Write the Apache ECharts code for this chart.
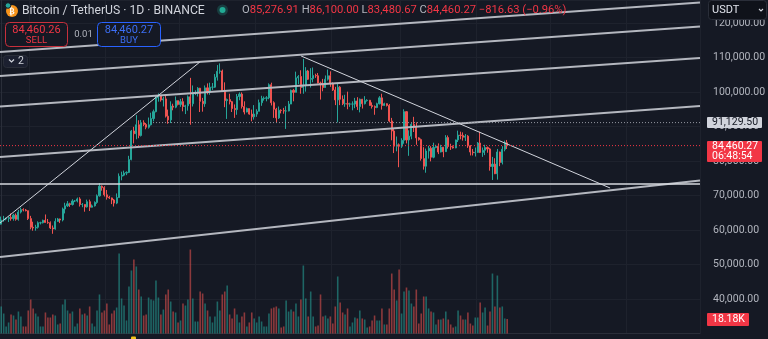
<!DOCTYPE html>
<html><head><meta charset="utf-8">
<script src="https://cdn.jsdelivr.net/npm/echarts/dist/echarts.min.js"></script>
<style>html,body{margin:0;padding:0;background:#151924;}#c{width:768px;height:339px;}</style>
</head><body><div id="c"></div><script>
// ---- data (prices in thousands USDT): [open, close, low, high], daily from 2024-09-19
const startDate = '2024-09-19';
const ohlc = [
[61.7,62.9,61.6,63.9],[62.9,63.2,62.4,64.1],[63.2,63.3,62.8,63.6],[63.3,63.6,62.3,63.9],[63.6,63.3,62.7,64.8],
[63.3,64.3,62.7,64.7],[64.3,63.1,62.7,64.8],[63.1,65.2,62.7,65.8],[65.2,65.9,64.8,66.5],[65.9,65.8,65.4,66.3],
[65.8,65.6,65.4,66.1],[65.6,63.3,62.9,65.6],
[63.3,60.8,60.2,64.1],[60.8,60.6,59.8,62.4],[60.6,60.8,59.8,61.5],[60.8,62.1,60.4,62.5],[62.1,62.1,61.6,62.4],
[62.1,62.8,61.9,63.0],[62.8,62.2,62.1,64.5],[62.2,62.1,61.8,63.2],[62.1,60.6,60.3,62.5],[60.6,60.3,58.9,61.3],
[60.3,62.5,60.1,63.4],[62.5,63.2,62.4,63.5],[63.2,62.9,62.0,63.3],[62.9,66.1,62.5,66.5],[66.1,67.0,64.8,67.9],
[67.0,67.6,66.7,68.4],[67.6,67.4,66.7,67.9],[67.4,68.4,67.1,68.9],[68.4,68.4,68.1,68.7],[68.4,69.0,68.0,69.4],
[69.0,67.4,66.8,69.5],[67.4,67.4,66.6,67.8],[67.4,66.7,65.3,67.4],[66.7,68.2,66.5,68.8],[68.2,66.6,65.5,68.8],
[66.6,67.0,66.5,67.4],[67.0,68.0,66.8,68.3],[68.0,69.9,67.6,70.3],[69.9,72.7,69.7,73.6],[72.7,72.3,71.4,72.9],
[72.3,70.2,69.7,72.7],
[70.2,69.5,68.8,71.6],[69.5,69.3,69.0,69.9],[69.3,68.7,67.5,69.4],[68.7,67.8,66.8,69.0],[67.8,69.4,67.5,70.6],
[69.4,75.6,69.3,76.4],[75.6,75.9,74.4,76.9],[75.9,76.5,75.6,77.2],[76.5,76.7,75.9,77.0],[76.7,80.4,76.5,81.5],
[80.4,88.7,80.2,89.0],[88.7,87.9,85.1,89.9],[87.9,90.5,86.3,93.3],[90.5,87.4,86.6,91.8],[87.4,91.1,87.1,91.9],
[91.1,90.6,90.1,91.8],[90.6,89.8,89.2,91.0],[89.8,90.5,89.4,92.6],[90.5,92.3,90.3,94.0],[92.3,94.3,91.5,94.9],
[94.3,98.3,94.1,99.0],[98.3,98.9,97.2,99.6],[98.9,97.7,97.2,98.8],[97.7,98.0,95.8,98.6],[98.0,93.0,92.6,98.9],
[93.0,91.9,90.8,94.9],[91.9,95.9,91.0,97.3],[95.9,95.6,94.7,96.6],[95.6,97.5,95.3,98.7],[97.5,96.4,96.1,97.5],
[96.4,97.2,95.7,98.0],[97.2,95.8,94.4,98.2],[95.8,96.0,93.6,96.3],[96.0,98.6,94.6,99.0],[98.6,96.6,90.5,104.1],
[96.6,99.9,95.8,101.9],[99.9,99.9,99.1,100.5],[99.9,101.1,98.7,101.4],[101.1,97.3,94.2,101.2],[97.3,96.6,94.3,98.3],
[96.6,101.2,95.7,101.9],[101.2,100.0,99.3,102.5],[100.0,101.4,99.2,102.7],[101.4,101.4,100.6,102.6],[101.4,104.3,101.2,105.2],
[104.3,106.0,103.3,107.8],[106.0,106.1,105.3,108.3],[106.1,100.2,100.0,106.5],[100.2,97.5,95.6,102.8],[97.5,97.8,92.2,98.1],
[97.8,97.2,96.4,99.5],[97.2,95.2,94.2,97.4],[95.2,94.9,92.5,96.4],[94.9,98.7,93.4,99.4],[98.7,99.4,97.6,99.9],
[99.4,95.8,95.2,99.9],[95.8,94.2,93.5,97.3],[94.2,95.2,94.1,95.5],[95.2,93.6,93.4,95.2],[93.6,92.8,91.5,94.9],
[92.8,93.6,92.0,96.2],
[93.6,94.4,92.8,95.0],[94.4,96.9,94.4,97.8],[96.9,98.1,96.0,98.9],[98.1,98.2,97.5,98.7],[98.2,98.3,97.3,98.8],
[98.3,102.1,97.9,102.5],[102.1,96.9,96.1,102.7],[96.9,95.0,92.5,97.3],[95.0,92.5,91.2,95.4],[92.5,94.7,92.2,95.8],
[94.7,94.6,93.8,95.0],[94.6,94.5,93.7,95.4],[94.5,94.5,89.3,95.9],[94.5,96.5,94.4,97.4],[96.5,100.5,96.5,100.7],
[100.5,99.9,97.3,100.9],[99.9,104.1,99.9,105.9],[104.1,104.5,102.3,104.9],[104.5,101.3,99.5,106.3],[101.3,102.0,99.5,109.6],
[102.0,106.1,100.1,107.2],[106.1,103.7,103.5,106.4],[103.7,103.9,101.3,106.9],[103.9,104.8,102.8,107.1],[104.8,104.7,104.1,105.3],
[104.7,102.6,102.5,105.5],[102.6,102.1,97.8,103.0],[102.1,101.3,100.2,103.8],[101.3,103.7,101.2,104.8],[103.7,104.7,103.3,106.5],
[104.7,102.4,101.5,106.0],
[102.4,100.6,100.3,102.8],[100.6,97.7,96.2,101.5],[97.7,101.4,91.2,102.5],[101.4,97.9,96.2,101.7],[97.9,96.6,96.2,99.0],
[96.6,96.6,95.7,99.2],[96.6,96.5,95.0,100.1],[96.5,96.5,95.7,96.9],[96.5,96.5,94.7,97.3],[96.5,97.4,95.3,98.3],
[97.4,95.8,94.8,98.5],[95.8,97.9,94.1,98.1],[97.9,96.6,95.2,98.0],[96.6,97.5,96.4,98.8],[97.5,97.6,97.2,97.9],
[97.6,96.1,96.0,97.7],[96.1,95.8,95.2,97.0],[95.8,95.5,93.4,96.1],[95.5,96.6,95.3,96.9],[96.6,98.3,96.4,98.8],
[98.3,96.1,94.9,99.5],[96.1,96.6,96.0,96.9],[96.6,96.1,95.8,96.7],[96.1,91.6,91.2,96.5],[91.6,88.7,86.0,92.5],
[88.7,84.3,82.3,89.3],[84.3,84.7,82.8,87.1],[84.7,84.3,78.2,85.1],
[84.3,86.0,83.8,86.6],[86.0,94.3,85.0,95.0],[94.3,86.1,85.1,94.4],[86.1,87.2,81.5,88.9],[87.2,90.6,86.3,91.0],
[90.6,89.9,88.4,92.8],[89.9,86.7,84.7,91.2],[86.7,86.2,85.9,86.9],[86.2,80.7,80.1,86.5],[80.7,78.5,77.5,84.0],
[78.5,82.9,76.6,83.6],[82.9,83.7,80.7,84.4],[83.7,81.1,79.9,84.3],[81.1,83.9,80.8,85.3],[83.9,84.3,83.7,84.7],
[84.3,82.6,82.0,85.1],[82.6,84.0,82.5,84.7],[84.0,82.7,81.1,84.0],[82.7,86.8,82.6,87.5],[86.8,84.2,83.6,87.4],
[84.2,84.1,83.2,85.0],[84.1,83.8,83.6,84.5],[83.8,86.1,83.7,86.2],[86.1,87.5,85.5,88.8],[87.5,87.4,86.3,88.5],
[87.4,86.9,85.9,88.3],[86.9,87.2,85.8,87.8],[87.2,84.4,83.8,87.5],[84.4,82.6,81.6,84.6],[82.6,82.4,81.6,83.5],
[82.4,82.5,81.3,83.9],
[82.5,85.2,82.4,85.5],[85.2,82.5,82.3,88.5],[82.5,83.1,81.2,83.9],[83.1,83.9,81.7,84.7],[83.9,83.5,82.4,84.2],
[83.5,78.4,77.2,83.8],[78.4,79.1,74.5,81.2],[79.1,76.3,76.2,80.8],[76.3,82.6,74.6,83.5],[82.6,79.6,78.5,82.7],
[79.6,83.4,79.0,84.3],[83.4,85.3,82.8,85.9],[85.27691,84.46027,83.48067,86.1]
];
// volume in thousands of BTC
const volumeK = [
33.8,25,8.8,13.8,23.8,22.5,17.5,27.5,21.3,8.8,8.8,28.8,42.5,31.3,25,21.3,8.8,8.8,26.3,20,
20,23.8,22.5,11.3,12.5,36.3,42.5,28.8,25,27.5,8.8,12.5,31.3,23.8,25,22.5,33.8,12.5,8.8,28.8,
48.8,26.3,28.8,37.5,11.3,25,28.8,32.5,100,43.8,35,16.3,58.8,78.8,92.5,83.8,55,46.3,22.5,23.8,
45,42.5,41.3,66.3,45,23.8,30,48.8,55,40,27.5,26.3,13.8,16.3,37.5,35,42.5,105,43.8,15,
15,52.5,50,37.5,28.8,21.3,13.8,21.3,40,28.8,48.8,52.5,60,23.8,18.8,31.3,23.8,13.8,21.3,26.3,
8.8,13.8,26.3,18.8,13.8,21.3,15,8.8,8.8,25,31.3,32.5,33.8,31.3,7.5,8.8,41.3,27.5,30,27.5,
37.5,21.3,42.5,85,43.8,21.3,52.5,21.3,8.8,10,48.8,21.3,22.5,18.8,21.3,12.5,33.8,71.3,38.8,26.3,
23.8,31.3,8.8,13.8,20,18.8,28.8,18.8,17.5,7.5,8.8,16.3,22.5,16.3,16.3,31.3,11.3,11.3,31.3,75,
55,41.3,80,25,52.5,57.5,53.8,37.5,33.8,55,12.5,25,46.3,46.3,31.3,27.5,26.3,11.3,17.5,17.5,
18.8,27.5,17.5,11.3,7.5,8.8,28.8,22.5,17.5,17.5,26.3,12.5,10,20,20,38.8,26.3,32.5,10,27.5,
75,33.8,72.5,32.5,33.8,18.8,18.18
];
const totalSlots = 285; // visible daily slots incl. empty space to the right
const priceTicks = [40000,50000,60000,70000,80000,90000,100000,110000,120000];
// drawings: [[slotIndex, price], [slotIndex, price]]
const channelLines = [
  [[-0.5,111594],[284.5,125943]],
  [[-0.5,104638],[284.5,118986]],
  [[-0.5,95797],[284.5,109855]],
  [[-0.5,81159],[284.5,95942]],
  [[-0.5,52173],[284.5,74347]]
];
const trendLines = [
  [[-0.5,62028],[80.9,108696]],
  [[122.1,110435],[247.9,72173]]
];
const supportLevel = [[-0.5,73333],[284.5,73333]];
const markedLevel = 91129.50;
const lastPrice = 84460.27;
const legend = {open:'85,276.91', high:'86,100.00', low:'83,480.67', close:'84,460.27', change:'−816.63 (−0.96%)'};

// ---- build
const cats = [];
{ const d = new Date(startDate + 'T00:00:00Z');
  for (let i = 0; i < totalSlots; i++) { cats.push(d.toISOString().slice(0,10)); d.setUTCDate(d.getUTCDate()+1); } }
const UP = '#26a69a', DOWN = '#ef5350';
const candleData = ohlc.map(r => r.map(v => v*1000));
const volData = volumeK.map((v,i) => ({value: v, itemStyle:{color: ohlc[i][1] >= ohlc[i][0] ? 'rgba(38,166,154,0.55)' : 'rgba(239,83,80,0.55)'}}));
const FONT = 'Roboto, "Noto Sans", sans-serif';

const series = [
  {type:'bar', xAxisIndex:0, yAxisIndex:1, data: volData, barWidth:1.6, z:1, silent:true},
  {type:'candlestick', xAxisIndex:0, yAxisIndex:0, data: candleData, barWidth:1.6, z:2,
   itemStyle:{color:UP, color0:DOWN, borderColor:UP, borderColor0:DOWN, borderWidth:1}}
];
const lineSeries = (pts, color, width, type, z) => ({type:'line', xAxisIndex:1, yAxisIndex:0, data: pts, symbol:'none', silent:true, z: z||5, animation:false,
  lineStyle:{color, width, type: type||'solid'}});
channelLines.forEach(l => series.push(lineSeries(l, '#b4b7bf', 1.8)));
trendLines.forEach(l => series.push(lineSeries(l, '#d1d4dc', 1)));
series.push(lineSeries(supportLevel, '#d6d8de', 1.6));
series.push(lineSeries([[61.8, markedLevel],[284.5, markedLevel]], '#9598a1', 1, [1,2]));
series.push(lineSeries([[-0.5, lastPrice],[284.5, lastPrice]], '#f23645', 1, [1,2]));

const chart = echarts.init(document.getElementById('c'), null, {renderer:'canvas'});
chart.setOption({
  backgroundColor:'#151924',
  animation:false,
  grid:{left:0, right:68, top:0, height:333.5, outerBoundsMode:'none', containLabel:false},
  xAxis:[
    {type:'category', data: cats, boundaryGap:true, axisLabel:{show:false}, axisTick:{show:false},
     axisLine:{show:true, lineStyle:{color:'#2a2e39'}},
     splitLine:{show:true, interval:(i, v) => v.slice(8) === '01', lineStyle:{color:'#1e222d', width:1}}},
    {type:'value', min:-0.5, max:totalSlots-0.5, show:false}
  ],
  yAxis:[
    {type:'value', position:'right', min:30000, max:126667, interval:10000, scale:false,
     axisLine:{show:true, lineStyle:{color:'#2a2e39'}}, axisTick:{show:false},
     splitLine:{show:true, lineStyle:{color:'#1e222d'}},
     axisLabel:{color:'#b2b5be', fontSize:10.5, fontFamily:FONT, margin:13, hideOverlap:false,
       formatter: v => priceTicks.indexOf(v) >= 0 ? v.toLocaleString('en-US',{minimumFractionDigits:2, maximumFractionDigits:2}) : ''}},
    {type:'value', min:0, max:417, show:false}
  ],
  series
});

const yOf = p => chart.convertToPixel({yAxisIndex:0}, p);
const yVol = v => chart.convertToPixel({yAxisIndex:1}, v);
const T = (text, x, y, fill, size, opts) => Object.assign({type:'text', x, y, z:100,
  style:Object.assign({text, fill, font: size+'px '+FONT, align:'left', verticalAlign:'middle'}, (opts||{}))});
const R = (x, y, w, h, fill, stroke, r) => ({type:'rect', z:99, shape:{x, y, width:w, height:h, r: r||0},
  style:{fill, stroke: stroke||null, lineWidth: stroke?1:0}});
const g = [];
// symbol icon
g.push({type:'circle', z:100, shape:{cx:12, cy:11, r:6}, style:{fill:'#f7931a'}});
g.push(T('₿', 12, 11.5, '#ffffff', 8, {align:'center', font:'bold 8px "DejaVu Sans"'}));
g.push({type:'circle', z:101, shape:{cx:8, cy:5.5, r:2.8}, style:{fill:'#26a69a', stroke:'#151924', lineWidth:1}});
g.push(T('Bitcoin / TetherUS · 1D · BINANCE', 22, 10.5, '#d1d4dc', 12.2));
g.push({type:'circle', z:100, shape:{cx:222.5, cy:10, r:5.5}, style:{fill:'rgba(34,171,148,0.25)'}});
g.push({type:'circle', z:101, shape:{cx:222.5, cy:10, r:3}, style:{fill:'#22ab94'}});
g.push({type:'text', x:242, y:10.5, z:100, style:{
  text:'{l|O}{v|'+legend.open+'} {l|H}{v|'+legend.high+'} {l|L}{v|'+legend.low+'} {l|C}{v|'+legend.close+'} {v|'+legend.change+'}',
  verticalAlign:'middle', font:'11.2px '+FONT,
  rich:{l:{fill:'#b2b5be', font:'11.2px '+FONT}, v:{fill:'#f23645', font:'11.2px '+FONT}}}});
// sell / buy
g.push(R(5.5, 22.5, 62, 24, '#151924', '#c8303c', 4));
g.push(T('84,460.26', 36.5, 30, '#f23645', 11, {align:'center'}));
g.push(T('SELL', 36.5, 40.5, '#f23645', 9.5, {align:'center'}));
g.push(T('0.01', 83.5, 34.5, '#b2b5be', 9.5, {align:'center'}));
g.push(R(97.5, 22.5, 63, 24, '#151924', '#2962ff', 4));
g.push(T('84,460.27', 129, 30, '#3d6ff5', 11, {align:'center'}));
g.push(T('BUY', 129, 40.5, '#3d6ff5', 9.5, {align:'center'}));
// collapse button
g.push(R(3.5, 55.5, 24, 12, '#1c2030', '#2a2e39', 3));
g.push({type:'polyline', z:101, shape:{points:[[9,59.5],[11.5,62],[14,59.5]]}, style:{stroke:'#d1d4dc', lineWidth:1.2, fill:null}});
g.push(T('2', 18, 61.5, '#d1d4dc', 10.5));
// currency button
g.push(R(708.5, 0.5, 58, 19, '#0f121a', '#2a2e39', 3));
g.push(T('USDT', 712, 10, '#e0e3eb', 11));
g.push({type:'polyline', z:101, shape:{points:[[759,9],[761,11],[763,9]]}, style:{stroke:'#d1d4dc', lineWidth:1.1, fill:null}});
// price tags
const ym = yOf(markedLevel);
g.push(R(707, ym-5.5, 55, 11, '#d1d4dc', null, 1));
g.push(T('91,129.50', 712, ym, '#131722', 10.5));
const yl = yOf(lastPrice);
g.push(R(707, yl-4.5, 55, 21, '#f23645', null, 1));
g.push(T('84,460.27', 712, yl+0.5, '#ffffff', 10.5));
g.push(T('06:48:54', 712, yl+11, '#ffffff', 10.5));
const yv = yVol(volumeK[volumeK.length-1]);
g.push(R(707, yv-6, 42, 13, '#f23645', null, 1));
g.push(T('18.18K', 712, yv+0.5, '#ffffff', 10.5));
// event marker
g.push(R(131, 336.5, 5, 3, '#f5c518', null, 1));
chart.setOption({graphic: g});
</script></body></html>
